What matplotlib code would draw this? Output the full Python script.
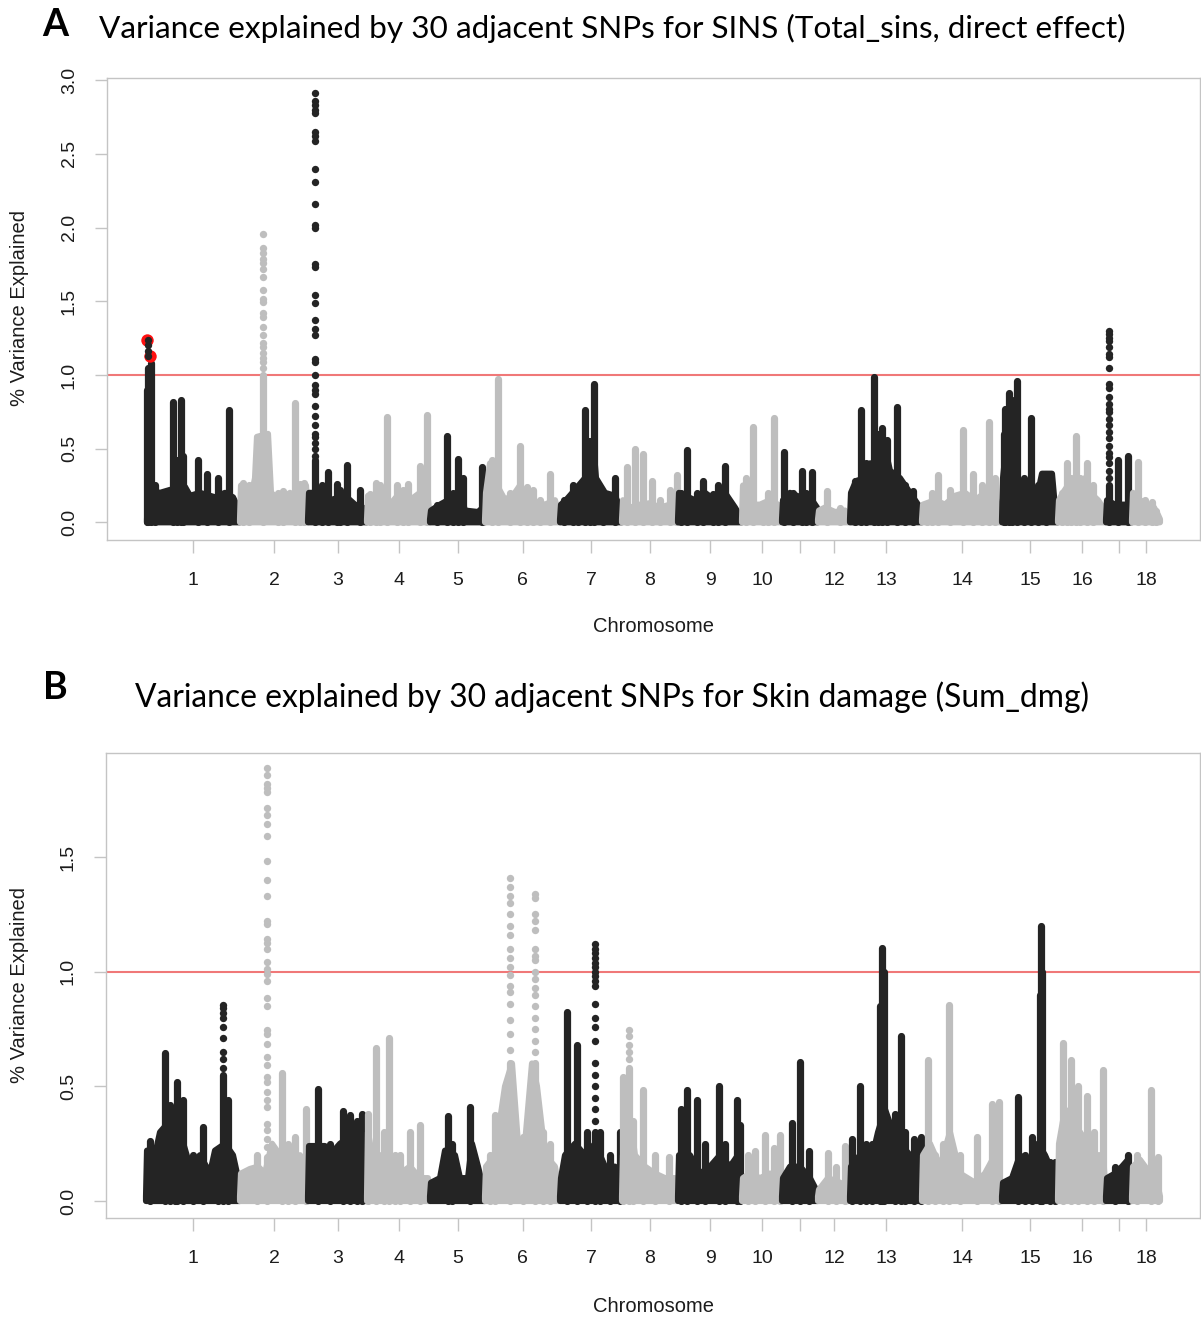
import matplotlib
matplotlib.use('Agg')
import matplotlib.pyplot as plt
from matplotlib.patches import Polygon

W, H, DPI = 1201, 1318, 100

# ---------------- data ----------------
CHROM_LABELS = ['1', '2', '3', '4', '5', '6', '7', '8', '9', '10', '', '12', '13', '14', '15', '16', '', '18']
CHROM_BOUNDS = [146, 240, 308, 367, 430, 485, 560, 622, 678, 742, 782, 818, 850, 922, 1002, 1058, 1106, 1132, 1160]

A_TITLE = 'Variance explained by 30 adjacent SNPs for SINS (Total_sins, direct effect)'
B_TITLE = 'Variance explained by 30 adjacent SNPs for Skin damage (Sum_dmg)'
Y_LABEL = '% Variance Explained'
X_LABEL = 'Chromosome'
THRESHOLD = 1.0

A_YTICKS = [0.0, 0.5, 1.0, 1.5, 2.0, 2.5, 3.0]
B_YTICKS = [0.0, 0.5, 1.0, 1.5]

# dense low "mass" of each chromosome (position, % variance)
A_BAND = [
    [(147, 0.02), (148, 0.22), (160, 0.2), (170, 0.22), (185, 0.24), (190, 0.18), (200, 0.2), (215, 0.17), (225, 0.2), (233, 0.17), (238, 0.1), (240, 0.02)],
    [(240, 0.02), (241, 0.25), (245, 0.2), (250, 0.13), (255, 0.3), (257, 0.58), (268, 0.6), (271, 0.2), (280, 0.15), (290, 0.2), (300, 0.15), (306, 0.25), (308, 0.02)],
    [(308, 0.02), (309, 0.2), (325, 0.2), (330, 0.15), (345, 0.18), (355, 0.12), (363, 0.1), (367, 0.02)],
    [(367, 0.02), (368, 0.18), (375, 0.15), (390, 0.12), (400, 0.2), (410, 0.15), (420, 0.2), (428, 0.15), (430, 0.02)],
    [(430, 0.02), (431, 0.08), (440, 0.12), (448, 0.15), (455, 0.19), (460, 0.2), (465, 0.08), (478, 0.07), (483, 0.1), (485, 0.02)],
    [(485, 0.02), (486, 0.2), (490, 0.4), (494, 0.4), (497, 0.25), (505, 0.15), (515, 0.2), (520, 0.25), (530, 0.15), (545, 0.12), (555, 0.15), (560, 0.02)],
    [(560, 0.02), (561, 0.12), (566, 0.15), (575, 0.22), (585, 0.3), (588, 0.55), (593, 0.55), (596, 0.3), (605, 0.2), (615, 0.18), (620, 0.1), (622, 0.02)],
    [(622, 0.02), (623, 0.15), (630, 0.1), (640, 0.12), (650, 0.13), (660, 0.1), (670, 0.12), (676, 0.15), (678, 0.02)],
    [(678, 0.02), (679, 0.2), (685, 0.18), (695, 0.15), (705, 0.2), (715, 0.15), (725, 0.2), (735, 0.1), (742, 0.02)],
    [(742, 0.02), (743, 0.25), (748, 0.25), (752, 0.12), (760, 0.12), (770, 0.15), (778, 0.12), (782, 0.02)],
    [(782, 0.02), (783, 0.15), (790, 0.2), (797, 0.18), (805, 0.15), (812, 0.15), (817, 0.1), (818, 0.02)],
    [(818, 0.02), (819, 0.08), (825, 0.1), (835, 0.07), (845, 0.08), (850, 0.02)],
    [(850, 0.02), (851, 0.2), (856, 0.28), (865, 0.3), (870, 0.4), (878, 0.4), (885, 0.5), (890, 0.35), (900, 0.3), (910, 0.2), (918, 0.12), (922, 0.02)],
    [(922, 0.02), (923, 0.12), (935, 0.15), (945, 0.12), (955, 0.18), (965, 0.2), (975, 0.15), (985, 0.2), (995, 0.18), (1002, 0.02)],
    [(1002, 0.02), (1003, 0.3), (1006, 0.5), (1012, 0.6), (1018, 0.3), (1025, 0.2), (1038, 0.2), (1042, 0.33), (1052, 0.33), (1055, 0.1), (1058, 0.02)],
    [(1058, 0.02), (1059, 0.15), (1063, 0.2), (1068, 0.25), (1075, 0.3), (1080, 0.25), (1085, 0.3), (1090, 0.2), (1098, 0.15), (1103, 0.1), (1106, 0.02)],
    [(1106, 0.02), (1107, 0.15), (1115, 0.12), (1125, 0.12), (1131, 0.05), (1132, 0.02)],
    [(1132, 0.02), (1133, 0.2), (1140, 0.15), (1148, 0.12), (1154, 0.1), (1158, 0.05), (1160, 0.02)],
]

# peaks: (position, top value)
A_SPIKES = [
    (146.5, 0.9), (148, 1.05), (151, 1.08), (155, 0.25), (173.3, 0.817), (177, 0.42), (180.7, 0.828), (183, 0.45),
    (197.7, 0.42), (206.7, 0.33), (217.7, 0.30), (229.3, 0.76),
    (243, 0.27), (249, 0.25), (263, 1.0), (278, 0.2), (283, 0.21), (295, 0.81), (300, 0.26), (304, 0.27),
    (315, 0.42), (322, 0.25), (328.3, 0.34), (336.7, 0.26), (340, 0.22), (346.7, 0.39), (360, 0.22),
    (370, 0.19), (376, 0.27), (380, 0.25), (386.7, 0.715), (397, 0.25), (403, 0.22), (408, 0.26), (420, 0.38), (426.7, 0.726),
    (436.7, 0.12), (446.7, 0.584), (453, 0.2), (458.3, 0.43), (463.3, 0.3), (481.7, 0.375),
    (491.7, 0.42), (497.7, 0.975), (510, 0.2), (520, 0.52), (526.7, 0.24), (533, 0.22), (540, 0.15), (550, 0.33),
    (564, 0.15), (573.3, 0.25), (578, 0.2), (585, 0.76), (590, 0.55), (594.3, 0.94), (603.3, 0.2), (615, 0.3),
    (626.7, 0.375), (635, 0.5), (643.3, 0.465), (651.7, 0.28), (660, 0.15), (670, 0.22), (676.7, 0.32),
    (681, 0.2), (687.3, 0.49), (696.7, 0.2), (703.3, 0.28), (713.3, 0.19), (718, 0.25), (725, 0.38),
    (746, 0.3), (753.3, 0.647), (763.3, 0.12), (768, 0.2), (774.3, 0.71),
    (784, 0.477), (793, 0.2), (801.7, 0.35), (806, 0.2), (811.7, 0.34),
    (826.7, 0.21), (840, 0.1),
    (855, 0.28), (861, 0.76), (866, 0.4), (874.3, 0.987), (878, 0.6), (881.7, 0.64), (886.7, 0.56), (896.7, 0.78), (905, 0.25), (913.3, 0.21),
    (926.7, 0.12), (932, 0.2), (938.3, 0.32), (950, 0.22), (962.7, 0.625), (972.7, 0.33), (981.7, 0.25), (989.3, 0.68), (995, 0.3),
    (1003.5, 0.6), (1005.4, 0.77), (1008.8, 0.88), (1012, 0.83), (1016.5, 0.96), (1024, 0.3), (1031, 0.71), (1038, 0.25), (1046, 0.33),
    (1061.7, 0.2), (1066.7, 0.4), (1071, 0.3), (1076, 0.584), (1080, 0.3), (1086.7, 0.4), (1093.3, 0.25),
    (1109.3, 0.25), (1118.3, 0.425), (1128.3, 0.45),
    (1138.3, 0.41), (1145, 0.15), (1151.7, 0.14), (1156, 0.08),
]

# sparse individual SNP windows above the dense part of the tallest peaks
A_DOTS = {
    148: [1.24, 1.2, 1.16, 1.127],
    263: [1.956, 1.863, 1.83, 1.79, 1.757, 1.716, 1.666, 1.576, 1.513, 1.497, 1.418, 1.395, 1.327, 1.27, 1.214,
          1.187, 1.146, 1.112, 1.09, 1.05],
    315: [2.91, 2.86, 2.83, 2.8, 2.78, 2.65, 2.62, 2.59, 2.4, 2.31, 2.16, 2.02, 2.0, 1.75, 1.73, 1.54, 1.49, 1.37,
          1.31, 1.27, 1.11, 1.09, 1.0, 0.93, 0.9, 0.87, 0.79, 0.72, 0.66, 0.6, 0.58, 0.54, 0.5, 0.45],
    1109.3: [1.3, 1.28, 1.25, 1.23, 1.19, 1.14, 1.12, 1.05, 0.94, 0.91, 0.85, 0.8, 0.77, 0.75, 0.7, 0.66, 0.61,
             0.57, 0.52, 0.47, 0.44, 0.4, 0.35, 0.3],
}
A_HIGHLIGHT = [(147, 1.24), (150, 1.127)]

B_BAND = [
    [(146, 0.02), (147, 0.22), (155, 0.2), (160, 0.3), (170, 0.35), (180, 0.3), (190, 0.15), (200, 0.2), (210, 0.12), (215, 0.22), (225, 0.25), (233, 0.2), (238, 0.1), (240, 0.02)],
    [(240, 0.02), (241, 0.12), (250, 0.14), (258, 0.15), (265, 0.12), (272, 0.25), (280, 0.2), (290, 0.15), (300, 0.2), (306, 0.15), (308, 0.02)],
    [(308, 0.02), (309, 0.24), (325, 0.24), (330, 0.2), (340, 0.25), (350, 0.28), (360, 0.2), (365, 0.1), (367, 0.02)],
    [(367, 0.02), (368, 0.3), (372, 0.2), (380, 0.2), (390, 0.15), (400, 0.12), (410, 0.15), (420, 0.1), (428, 0.1), (430, 0.02)],
    [(430, 0.02), (431, 0.08), (440, 0.1), (445, 0.22), (455, 0.2), (460, 0.1), (468, 0.1), (472, 0.25), (478, 0.15), (482, 0.08), (485, 0.02)],
    [(485, 0.02), (486, 0.15), (495, 0.2), (505, 0.5), (512, 0.6), (518, 0.25), (525, 0.25), (532, 0.6), (537, 0.5), (545, 0.2), (555, 0.15), (560, 0.02)],
    [(560, 0.02), (561, 0.1), (565, 0.2), (575, 0.25), (585, 0.2), (595, 0.25), (605, 0.15), (615, 0.15), (620, 0.1), (622, 0.02)],
    [(622, 0.02), (623, 0.2), (630, 0.35), (635, 0.2), (645, 0.15), (655, 0.12), (665, 0.1), (675, 0.1), (678, 0.02)],
    [(678, 0.02), (679, 0.2), (690, 0.2), (700, 0.12), (710, 0.15), (720, 0.2), (730, 0.15), (738, 0.2), (742, 0.02)],
    [(742, 0.02), (743, 0.1), (750, 0.12), (760, 0.1), (770, 0.12), (780, 0.1), (782, 0.02)],
    [(782, 0.02), (783, 0.1), (790, 0.15), (800, 0.15), (810, 0.1), (816, 0.05), (818, 0.02)],
    [(818, 0.02), (819, 0.05), (828, 0.1), (840, 0.08), (850, 0.02)],
    [(850, 0.02), (851, 0.15), (860, 0.2), (870, 0.15), (878, 0.3), (885, 0.4), (893, 0.3), (900, 0.25), (910, 0.2), (918, 0.15), (922, 0.02)],
    [(922, 0.02), (923, 0.2), (930, 0.25), (940, 0.15), (950, 0.3), (960, 0.12), (975, 0.08), (985, 0.12), (995, 0.2), (1002, 0.02)],
    [(1002, 0.02), (1003, 0.08), (1012, 0.1), (1020, 0.2), (1030, 0.15), (1038, 0.25), (1045, 0.2), (1050, 0.15), (1056, 0.1), (1058, 0.02)],
    [(1058, 0.02), (1059, 0.25), (1065, 0.4), (1072, 0.35), (1080, 0.3), (1088, 0.25), (1095, 0.2), (1103, 0.2), (1106, 0.02)],
    [(1106, 0.02), (1107, 0.1), (1115, 0.12), (1122, 0.15), (1128, 0.18), (1131, 0.05), (1132, 0.02)],
    [(1132, 0.02), (1133, 0.15), (1140, 0.18), (1150, 0.12), (1156, 0.1), (1160, 0.02)],
]

B_SPIKES = [
    (150, 0.26), (165, 0.644), (170, 0.42), (175, 0.4), (177.3, 0.52), (183.3, 0.44), (193.3, 0.2), (203.3, 0.324), (218, 0.22), (222.7, 0.55), (228.3, 0.44),
    (256.7, 0.2), (266.7, 0.19), (282.3, 0.557), (288, 0.25), (295, 0.28), (305.7, 0.40),
    (317.7, 0.487), (330, 0.25), (342.7, 0.394), (350, 0.375), (356.7, 0.35), (361.7, 0.38),
    (368, 0.38), (376, 0.666), (384, 0.3), (389.3, 0.71), (395, 0.2), (400, 0.2), (410, 0.3), (420, 0.33),
    (448.3, 0.37), (452, 0.25), (470, 0.41),
    (490, 0.2), (495, 0.375), (510, 0.6), (523, 0.28), (535, 0.6), (543.3, 0.3), (550, 0.25),
    (567.3, 0.826), (576.7, 0.68), (586.7, 0.3), (595, 0.3), (600, 0.3), (610, 0.2), (620, 0.3),
    (623, 0.54), (628.7, 0.58), (633, 0.35), (643.3, 0.484), (655, 0.2), (669, 0.19),
    (680.5, 0.403), (687, 0.484), (697, 0.44), (705, 0.25), (718.8, 0.5), (725, 0.25), (737, 0.44), (740, 0.33),
    (748, 0.2), (755, 0.22), (764.8, 0.29), (774, 0.23), (780, 0.29),
    (791.6, 0.34), (800, 0.607), (808.8, 0.22),
    (828, 0.21), (836, 0.15), (845, 0.24),
    (852, 0.27), (859.8, 0.5), (866, 0.25), (872, 0.25), (879.8, 0.85), (881.6, 1.105), (883.5, 1.0), (895, 0.38), (900.8, 0.718), (905, 0.3), (914, 0.27), (921, 0.28),
    (927.6, 0.615), (935, 0.2), (943, 0.25), (949.4, 0.857), (960, 0.2), (977.4, 0.28), (991.6, 0.425), (998.5, 0.43),
    (1017.6, 0.455), (1025, 0.2), (1032, 0.28), (1039.5, 0.9), (1040.6, 1.2), (1042, 1.0), (1050, 0.17), (1055, 0.17),
    (1062.8, 0.69), (1071.2, 0.615), (1078.2, 0.5), (1086.6, 0.46), (1094, 0.3), (1103, 0.57),
    (1115, 0.15), (1128, 0.2),
    (1137, 0.2), (1151, 0.484), (1158, 0.19),
]

B_DOTS = {
    222.7: [0.855, 0.84, 0.82, 0.8, 0.76, 0.71, 0.65, 0.62, 0.58],
    266.7: [1.89, 1.858, 1.82, 1.8, 1.785, 1.716, 1.683, 1.646, 1.59, 1.485, 1.398, 1.332, 1.222, 1.208, 1.142,
            1.124, 1.1, 1.042, 1.01, 0.988, 0.959, 0.886, 0.85, 0.747, 0.73, 0.686, 0.63, 0.594, 0.542, 0.52,
            0.477, 0.44, 0.41, 0.338, 0.308, 0.272, 0.235],
    510: [1.41, 1.37, 1.33, 1.3, 1.25, 1.2, 1.16, 1.1, 1.06, 1.02, 0.985, 0.94, 0.91, 0.86, 0.79, 0.73, 0.66],
    535: [1.34, 1.32, 1.25, 1.22, 1.18, 1.1, 1.07, 1.05, 1.0, 0.97, 0.93, 0.9, 0.85, 0.8, 0.75, 0.7, 0.65],
    595: [1.12, 1.1, 1.08, 1.06, 1.04, 1.02, 1.0, 0.98, 0.96, 0.94, 0.86, 0.8, 0.76, 0.7, 0.6, 0.55, 0.5, 0.45,
          0.4, 0.35],
    628.7: [0.746, 0.72, 0.68, 0.65, 0.62],
}

# ---------------- style ----------------
COLORS = ['#242424', '#bebebe']
FRAME = '#c4c4c4'
TXT = '#1c1c1c'
LINE_W = 5.2      # column width (pt)
DOT_S = 28        # dot size
TEXT_FONT = ['Liberation Sans', 'DejaVu Sans']
TITLE_FONT = ['Lato', 'DejaVu Sans']


def chrom_of(x):
    for i in range(len(CHROM_BOUNDS) - 1):
        if x < CHROM_BOUNDS[i + 1]:
            return i
    return len(CHROM_BOUNDS) - 2


def draw_panel(ax, band, spikes, dots, ylim, yticks, xlim, highlight=None):
    ax.set_xlim(*xlim)
    ax.set_ylim(*ylim)
    ax.axhline(THRESHOLD, color='#f07878', lw=1.5, zorder=1)
    for i, prof in enumerate(band):
        c = COLORS[i % 2]
        pts = list(prof) + [(prof[-1][0], 0.0), (prof[0][0], 0.0)]
        ax.add_patch(Polygon(pts, closed=True, facecolor=c, edgecolor=c,
                             linewidth=LINE_W * 0.85, joinstyle='round', zorder=2 + i * 0.01))
        sx = [s[0] for s in spikes if chrom_of(s[0]) == i]
        st = [s[1] for s in spikes if chrom_of(s[0]) == i]
        if sx:
            ax.vlines(sx, 0.0, st, colors=c, linewidth=LINE_W, capstyle='round',
                      zorder=2.005 + i * 0.01)
    if highlight:
        ax.scatter([h[0] for h in highlight], [h[1] for h in highlight], s=80,
                   color='#ff1010', linewidths=0, zorder=3)
    for x, vals in dots.items():
        c = COLORS[chrom_of(x) % 2]
        ax.scatter([x] * len(vals), vals, s=DOT_S, color=c, linewidths=0, zorder=4)

    mids = [(CHROM_BOUNDS[i] + CHROM_BOUNDS[i + 1]) / 2 for i in range(len(CHROM_BOUNDS) - 1)]
    ax.set_xticks(mids)
    ax.set_xticklabels(CHROM_LABELS, fontfamily=TEXT_FONT, fontsize=14, color=TXT)
    ax.set_yticks(yticks)
    ax.set_yticklabels(['%.1f' % v for v in yticks], fontfamily=TEXT_FONT, fontsize=14,
                       color=TXT, rotation=90, va='center')
    for sp in ax.spines.values():
        sp.set_color(FRAME)
        sp.set_linewidth(1.0)
    ax.tick_params(axis='both', colors=FRAME, length=9, width=1.0, pad=12)
    ax.tick_params(axis='x', labelcolor=TXT, pad=14)
    ax.tick_params(axis='y', labelcolor=TXT, pad=12)


fig = plt.figure(figsize=(W / DPI, H / DPI), dpi=DPI)


def fx(px):
    return px / W


def fy(py):
    return 1 - py / H


axA = fig.add_axes([fx(107), fy(540), fx(1200 - 107), (540 - 78) / H])
draw_panel(axA, A_BAND, A_SPIKES, A_DOTS, (-0.12, 3.015), A_YTICKS, (107, 1200), A_HIGHLIGHT)

axB = fig.add_axes([fx(106), fy(1218), fx(1200 - 106), (1218 - 753) / H])
draw_panel(axB, B_BAND, B_SPIKES, B_DOTS, (-0.074, 1.954), B_YTICKS, (106, 1200))

# labels
for cy in (308, 985):
    fig.text(fx(20), fy(cy), Y_LABEL, rotation=90, ha='center', va='center',
             fontfamily=TEXT_FONT, fontsize=14.5, color=TXT)
for cy in (627, 1306):
    fig.text(fx(653), fy(cy), X_LABEL, ha='center', va='center',
             fontfamily=TEXT_FONT, fontsize=14.5, color=TXT)

fig.text(fx(55), fy(25), 'A', ha='center', va='center', fontfamily=TITLE_FONT,
         fontweight='bold', fontsize=27, color='black')
fig.text(fx(55), fy(688), 'B', ha='center', va='center', fontfamily=TITLE_FONT,
         fontweight='bold', fontsize=27, color='black')
tA = fig.text(fx(612), fy(28), A_TITLE, ha='center', va='center', fontfamily=TITLE_FONT,
              fontsize=24, color='black')
tB = fig.text(fx(612), fy(697), B_TITLE, ha='center', va='center', fontfamily=TITLE_FONT,
              fontsize=24, color='black')

renderer = fig.canvas.get_renderer()
for t, target in ((tA, 1025), (tB, 955)):
    w = t.get_window_extent(renderer).width
    t.set_fontsize(t.get_fontsize() * target / w)

fig.savefig('out.png', dpi=DPI)
